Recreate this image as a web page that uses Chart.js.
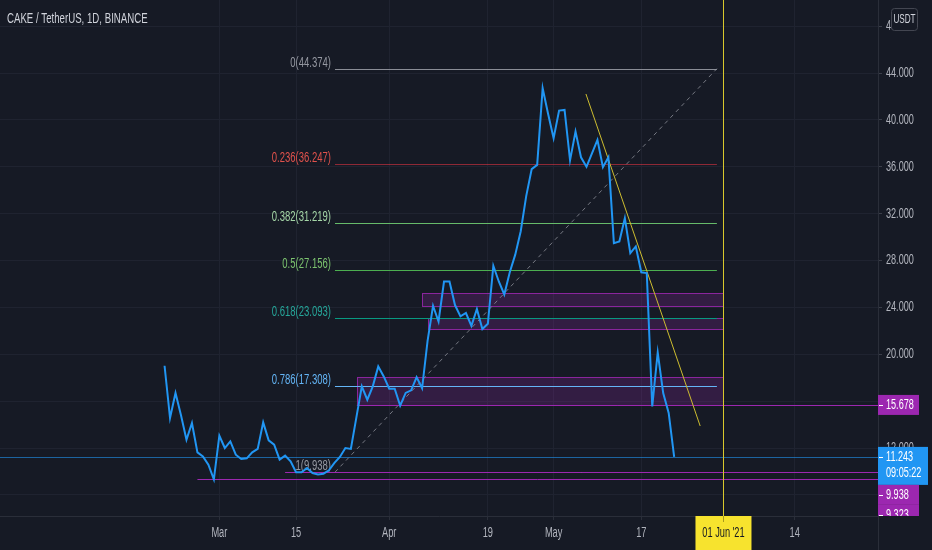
<!DOCTYPE html>
<html>
<head>
<meta charset="utf-8">
<script src="https://cdn.jsdelivr.net/npm/chart.js@4.4.0/dist/chart.umd.min.js"></script>
<style>
html, body { margin: 0; padding: 0; background: #161a25; }
canvas { display: block; }
</style>
</head>
<body>
<canvas id="cakeChart" width="932" height="550"></canvas>
<script>
// days are counted from 1 Mar 2021 (day 0); first close is 19 Feb
const firstDay = -10;
const closes = [
  19.02, 14.56, 16.7, 14.8, 12.71, 14.14, 11.63, 11.29, 10.58, 9.323,
  13.05, 12.0, 12.57, 11.43, 11.07, 11.12, 11.63, 11.92, 14.19, 12.65,
  12.29, 11.01, 11.35, 10.86, 9.93, 9.93, 10.3, 9.87, 9.75, 9.81,
  10.1, 10.73, 11.24, 12.0, 11.92, 14.6, 17.26, 16.12, 17.26, 18.96,
  18.11, 17.06, 17.06, 15.61, 16.7, 16.92, 18.05, 17.1, 21.15, 24.14,
  22.8, 26.2, 26.2, 24.2, 23.23, 23.52, 22.43, 23.86, 22.15, 22.6,
  27.55, 26.21, 25.1, 27.0, 28.5, 30.5, 33.5, 35.8, 36.16, 42.7,
  40.5, 38.43, 40.79, 40.85, 36.55, 39.0, 36.81, 36.0, 37.15, 38.29,
  35.96, 36.81, 29.48, 29.62, 31.61, 28.63, 29.2, 27.0, 26.93, 15.55,
  20.15, 16.69, 14.99, 11.243
];

const xTickDays = [0, 14, 31, 49, 61, 77, 92, 105];
const xTickLabels = ['Mar', '15', 'Apr', '19', 'May', '17', "01 Jun '21", '14'];
const yTickValues = [8, 12, 16, 20, 24, 28, 32, 36, 40, 44, 48];

const fibRatios = [0, 0.236, 0.382, 0.5, 0.618, 0.786, 1];
const fibPrices = [44.374, 36.247, 31.219, 27.156, 23.093, 17.308, 9.938];
const fibFromDay = 21.1;
const fibToDay = 90.8;

const zoneTops = [25.2, 23.12, 18.09];
const zoneBottoms = [24.15, 22.13, 15.678];
const zoneFromDays = [36.9, 38, 25.1];
const zoneToDay = 92;

const levelPrices = [15.678, 9.938, 9.323];
const levelFromDays = [25.1, 12.0, -4.0];

const trendDays = [66.9, 87.75];
const trendPrices = [42.21, 13.88];

const markerDay = 92;
const lastPrice = 11.243;
const countdown = '09:05:22';
const title = 'CAKE / TetherUS, 1D, BINANCE';

const FONT = "'Liberation Sans', Arial, sans-serif";
const BG = '#161a25';
const fibLineColors = ['#8a8d96', 'rgba(242,54,69,0.55)', '#66bb6a', '#4caf50', '#089981', '#64b5f6', '#8a8d96'];
const fibTextColors = ['#9598a1', '#e0524c', '#a5d6a7', '#7cc36f', '#26a69a', '#64b5f6', '#9598a1'];
const PURPLE = '#9c27b0';

// squeezed text, the screenshot is narrower than TradingView's font
function label(ctx, s, x, y, align, size, color, sx) {
  ctx.save();
  ctx.font = size + 'px ' + FONT;
  ctx.fillStyle = color;
  ctx.textAlign = align;
  ctx.textBaseline = 'middle';
  ctx.translate(x, y);
  ctx.scale(sx || 0.66, 1);
  ctx.fillText(s, 0, 0);
  ctx.restore();
}

const drawings = {
  id: 'drawings',
  beforeDraw(chart) {
    const { ctx } = chart;
    ctx.save();
    ctx.fillStyle = BG;
    ctx.fillRect(0, 0, chart.width, chart.height);
    ctx.restore();
  },
  beforeDatasetsDraw(chart) {
    const { ctx, chartArea: a, scales: { x, y } } = chart;
    ctx.save();
    ctx.beginPath();
    ctx.rect(a.left, a.top, a.right - a.left, a.bottom - a.top);
    ctx.clip();
    ctx.lineWidth = 1;

    // purple zones
    zoneTops.forEach((top, i) => {
      const x0 = Math.round(x.getPixelForValue(zoneFromDays[i])) + 0.5;
      const x1 = Math.round(x.getPixelForValue(zoneToDay)) + 0.5;
      const y0 = Math.round(y.getPixelForValue(top)) + 0.5;
      const y1 = Math.round(y.getPixelForValue(zoneBottoms[i])) + 0.5;
      ctx.fillStyle = 'rgba(156,39,176,0.22)';
      ctx.fillRect(x0, y0, x1 - x0, y1 - y0);
      ctx.strokeStyle = 'rgba(156,39,176,0.85)';
      ctx.strokeRect(x0, y0, x1 - x0, y1 - y0);
    });

    // current price line
    const ly = Math.round(y.getPixelForValue(lastPrice)) + 0.5;
    ctx.strokeStyle = 'rgba(33,150,243,0.6)';
    ctx.beginPath(); ctx.moveTo(a.left, ly); ctx.lineTo(a.right, ly); ctx.stroke();

    // fib retracement
    const fx0 = x.getPixelForValue(fibFromDay);
    const fx1 = x.getPixelForValue(fibToDay);
    fibPrices.forEach((p, i) => {
      const py = Math.round(y.getPixelForValue(p)) + 0.5;
      ctx.strokeStyle = fibLineColors[i];
      ctx.beginPath(); ctx.moveTo(fx0, py); ctx.lineTo(fx1, py); ctx.stroke();
      ctx.save();
      ctx.font = '14px ' + FONT;
      ctx.fillStyle = fibTextColors[i];
      ctx.textAlign = 'right';
      ctx.textBaseline = 'alphabetic';
      ctx.translate(fx0 - 4, py - 3);
      ctx.scale(0.68, 1);
      ctx.fillText(fibRatios[i] + '(' + p.toFixed(3) + ')', 0, 0);
      ctx.restore();
    });
    ctx.strokeStyle = 'rgba(149,152,161,0.75)';
    ctx.setLineDash([4, 4]);
    ctx.beginPath();
    ctx.moveTo(fx0, y.getPixelForValue(fibPrices[6]));
    ctx.lineTo(fx1, y.getPixelForValue(fibPrices[0]));
    ctx.stroke();
    ctx.setLineDash([]);

    // horizontal rays
    levelPrices.forEach((p, i) => {
      const py = Math.round(y.getPixelForValue(p)) + 0.5;
      ctx.strokeStyle = PURPLE;
      ctx.beginPath(); ctx.moveTo(x.getPixelForValue(levelFromDays[i]), py); ctx.lineTo(a.right, py); ctx.stroke();
    });

    // falling trend line
    ctx.strokeStyle = '#cdbd30';
    ctx.beginPath();
    ctx.moveTo(x.getPixelForValue(trendDays[0]), y.getPixelForValue(trendPrices[0]));
    ctx.lineTo(x.getPixelForValue(trendDays[1]), y.getPixelForValue(trendPrices[1]));
    ctx.stroke();

    // vertical date marker
    const mx = Math.round(x.getPixelForValue(markerDay)) + 0.5;
    ctx.strokeStyle = '#d8c82c';
    ctx.beginPath(); ctx.moveTo(mx, a.top); ctx.lineTo(mx, a.bottom); ctx.stroke();
    ctx.restore();
  },
  afterDraw(chart) {
    const { ctx, chartArea: a, scales: { x, y } } = chart;
    ctx.save();
    label(ctx, title, 7, 19, 'left', 14, '#d1d4dc', 0.69);

    // separator of the price scale down through the time scale
    ctx.strokeStyle = '#2a2e39';
    ctx.lineWidth = 1;
    ctx.beginPath(); ctx.moveTo(a.right + 0.5, a.bottom); ctx.lineTo(a.right + 0.5, chart.height); ctx.stroke();

    // time scale labels
    const ty = a.bottom + 17;
    x.ticks.forEach(t => {
      const px = x.getPixelForValue(t.value);
      const text = xTickLabels[xTickDays.indexOf(t.value)];
      if (t.value === markerDay) {
        ctx.fillStyle = '#f7e32e';
        ctx.fillRect(px - 28, a.bottom, 56, chart.height - a.bottom);
        ctx.fillStyle = '#a89a1c';
        ctx.fillRect(Math.round(px), a.bottom, 1, 6);
        label(ctx, text, px, ty, 'center', 14, '#131722', 0.66);
      } else {
        label(ctx, text, px, ty, 'center', 14, '#b2b5be', 0.66);
      }
    });

    // price scale labels
    y.ticks.forEach(t => {
      label(ctx, t.value.toFixed(3), a.right + 8, y.getPixelForValue(t.value), 'left', 14, '#b2b5be', 0.65);
    });

    // USDT badge
    ctx.fillStyle = BG;
    ctx.strokeStyle = '#434651';
    ctx.beginPath();
    ctx.roundRect(891.5, 8.5, 26, 22, 3);
    ctx.fill();
    ctx.stroke();
    label(ctx, 'USDT', 904.5, 19.5, 'center', 12, '#d1d4dc', 0.68);

    // price badges on the right scale
    ctx.beginPath();
    ctx.rect(a.right, 0, chart.width - a.right, a.bottom);
    ctx.clip();
    const badges = [
      { value: levelPrices[0], color: PURPLE, lines: [levelPrices[0].toFixed(3)], w: 41 },
      { value: lastPrice, color: '#2196f3', lines: [lastPrice.toFixed(3), countdown], w: 50 },
      { value: levelPrices[1], color: PURPLE, lines: [levelPrices[1].toFixed(3)], w: 41 },
      { value: levelPrices[2], color: PURPLE, lines: [levelPrices[2].toFixed(3)], w: 41 }
    ];
    let prevBottom = -Infinity;
    badges.forEach(b => {
      const h = b.lines.length === 1 ? 20 : 38;
      const top = Math.max(y.getPixelForValue(b.value) - 10, prevBottom);
      prevBottom = top + h;
      ctx.fillStyle = b.color;
      ctx.fillRect(a.right, top, b.w, h);
      ctx.fillStyle = '#ffffff';
      ctx.fillRect(a.right + 1, Math.round(top + 10), 4, 1);
      b.lines.forEach((t, k) => label(ctx, t, a.right + 8, top + 10.5 + k * 16, 'left', 14, '#ffffff', 0.65));
    });
    ctx.restore();
  }
};

const noPadding = s => { s.paddingTop = 0; s.paddingBottom = 0; s.paddingLeft = 0; s.paddingRight = 0; };

new Chart(document.getElementById('cakeChart'), {
  type: 'line',
  data: {
    datasets: [{
      label: 'CAKE / TetherUS',
      data: closes.map((c, i) => ({ x: firstDay + i, y: c })),
      borderColor: '#2196f3',
      borderWidth: 2,
      pointRadius: 0,
      tension: 0,
      fill: false
    }]
  },
  options: {
    responsive: false,
    animation: false,
    layout: { padding: 0 },
    plugins: { legend: { display: false }, tooltip: { enabled: false } },
    scales: {
      x: {
        type: 'linear',
        min: -40.03,
        max: 120.2,
        afterBuildTicks: s => { s.ticks = xTickDays.map(v => ({ value: v })); },
        afterFit: s => { s.height = 34; noPadding(s); },
        grid: { color: '#1f2330', tickLength: 4, tickColor: '#2a2e39' },
        border: { color: '#2a2e39' },
        ticks: { display: false }
      },
      y: {
        position: 'right',
        min: 6.2,
        max: 50.23,
        afterBuildTicks: s => { s.ticks = yTickValues.map(v => ({ value: v })); },
        afterFit: s => { s.width = 54; noPadding(s); },
        grid: { color: '#1f2330', tickLength: 4, tickColor: '#3a3e49' },
        border: { color: '#2a2e39' },
        ticks: { display: false }
      }
    }
  },
  plugins: [drawings]
});
</script>
</body>
</html>
